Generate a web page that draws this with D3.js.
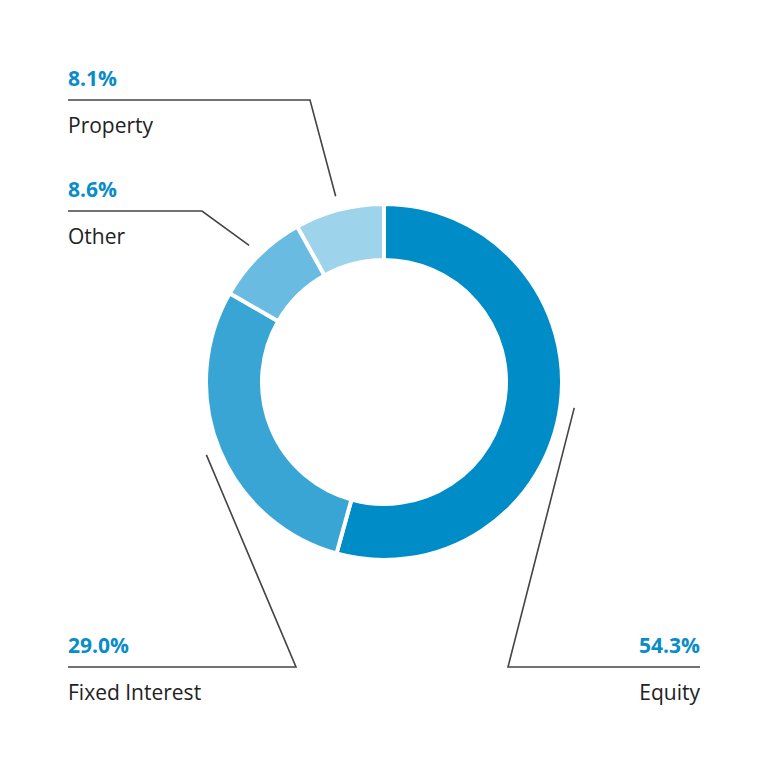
<!DOCTYPE html>
<html><head><meta charset="utf-8">
<script src="https://cdn.jsdelivr.net/npm/d3@7"></script>
<style>body{margin:0;background:#fff}</style>
</head><body>
<script>
const names = ['Equity', 'Fixed Interest', 'Other', 'Property'];
const values = [54.3, 29.0, 8.6, 8.1];
const colors = ['#008cc6', '#38a5d4', '#69bbe1', '#9dd3eb'];

const width = 768, height = 768;
const cx = 384, cy = 382, r_out = 178, r_in = 122;
// label layout: [elbow x, line y, line end x, side]
const layout = [
    {ex: 508, ly: 667, endx: 700, anchor: 'end'},
    {ex: 296, ly: 667, endx: 68, anchor: 'start'},
    {ex: 202, ly: 211, endx: 68, anchor: 'start'},
    {ex: 310, ly: 100, endx: 68, anchor: 'start'}
];

const svg = d3.select('body').append('svg')
    .attr('width', width).attr('height', height);
const g = svg.append('g').attr('transform', `translate(${cx},${cy})`);

const pie = d3.pie().sort(null).value(d => d)(values);
const arc = d3.arc().innerRadius(r_in).outerRadius(r_out);

g.selectAll('path.slice')
    .data(pie)
    .enter()
    .append('path')
    .attr('d', arc)
    .attr('fill', (d, i) => colors[i])
    .attr('stroke', '#fff')
    .attr('stroke-width', 4);

pie.forEach((d, i) => {
    const L = layout[i];
    const a = (d.startAngle + d.endAngle) / 2;
    const sr = r_out + 14;
    const sx = cx + Math.sin(a) * sr, sy = cy - Math.cos(a) * sr;
    svg.append('polyline')
        .attr('points', `${sx},${sy} ${L.ex},${L.ly} ${L.endx},${L.ly}`)
        .attr('fill', 'none')
        .attr('stroke', '#444')
        .attr('stroke-width', 1.6);
    const tx = L.anchor === 'end' ? L.endx : L.endx;
    svg.append('text')
        .attr('x', tx).attr('y', L.ly - 14)
        .attr('text-anchor', L.anchor)
        .attr('font-family', 'Open Sans, sans-serif')
        .attr('font-weight', 'bold')
        .attr('font-size', 21)
        .attr('fill', '#0a8cc8')
        .text(values[i].toFixed(1) + '%');
    svg.append('text')
        .attr('x', tx).attr('y', L.ly + 33)
        .attr('text-anchor', L.anchor)
        .attr('font-family', 'Open Sans, sans-serif')
        .attr('font-size', 21)
        .attr('fill', '#222')
        .text(names[i]);
});
</script>
</body></html>
